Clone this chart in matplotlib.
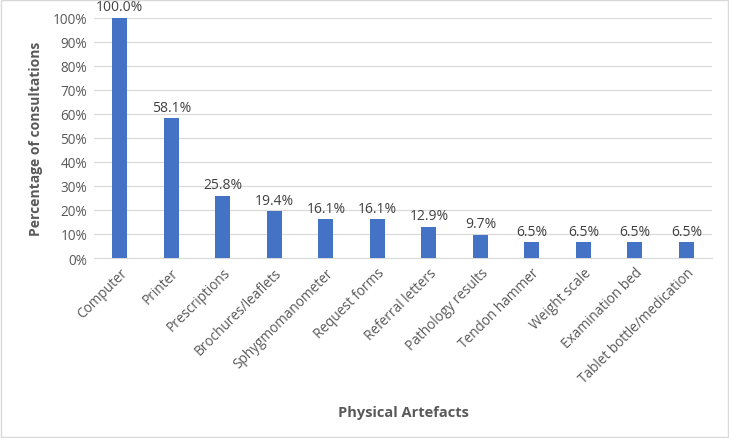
import numpy as np
import matplotlib.pyplot as plt
from matplotlib.ticker import PercentFormatter

artefacts = ["Computer", "Printer", "Prescriptions", "Brochures/leaflets",
             "Sphygmomanometer", "Request forms", "Referral letters",
             "Pathology results", "Tendon hammer", "Weight scale",
             "Examination bed", "Tablet bottle/medication"]
percentages = [100.0, 58.1, 25.8, 19.4, 16.1, 16.1, 12.9, 9.7, 6.5, 6.5, 6.5, 6.5]

plt.rcParams['font.family'] = ['Open Sans', 'DejaVu Sans']
grey = '#595959'

fig = plt.figure(figsize=(7.29, 4.39), dpi=100)
ax = fig.add_axes([0.129, 0.41, 0.848, 0.547])

x = np.arange(len(artefacts))
ax.bar(x, percentages, width=0.29, color='#4472C4', zorder=3)
for xi, v in zip(x, percentages):
    ax.text(xi, v + 1.5, f"{v:.1f}%", ha='center', va='bottom', fontsize=10, color='#404040')

ax.set_xlim(-0.5, len(artefacts) - 0.5)
ax.set_ylim(0, 100)
ax.set_yticks(np.arange(0, 101, 10))
ax.yaxis.set_major_formatter(PercentFormatter(decimals=0))
ax.grid(axis='y', color='#d9d9d9', linewidth=0.8, zorder=0)
for s in ['top', 'right', 'left']:
    ax.spines[s].set_visible(False)
ax.spines['bottom'].set_color('#d9d9d9')
ax.tick_params(axis='both', length=0, labelsize=9.8, colors=grey, pad=5)
ax.set_xticks(x)
ax.set_xticklabels(artefacts, rotation=45, ha='right', rotation_mode='anchor')

ax.set_ylabel("Percentage of consultations", fontsize=10, fontweight='bold', color=grey, labelpad=7)
fig.text(0.553, 0.06, "Physical Artefacts", ha='center', va='center',
         fontsize=10.5, fontweight='bold', color=grey)

fig.patches.append(plt.Rectangle((0.001, 0.002), 0.997, 0.995, transform=fig.transFigure,
                                 fill=False, edgecolor='#d9d9d9', linewidth=1))

fig.savefig("out.png", dpi=100)
